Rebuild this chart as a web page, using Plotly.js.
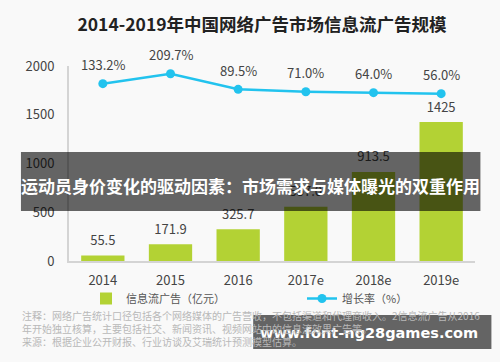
<!DOCTYPE html>
<html><head><meta charset="utf-8">
<script src="https://cdn.plot.ly/plotly-3.0.1.min.js"></script>
<style>html,body{margin:0;padding:0;background:#f9f9f9}</style>
</head><body><div id="chart" style="width:500px;height:362px"></div>
<script>
const years = ['2014', '2015', '2016', '2017e', '2018e', '2019e'];
const adSize = [55.5, 171.9, 325.7, 557.0, 913.5, 1425];
const adSizeLabels = ['55.5', '171.9', '325.7', '557.0', '913.5', '1425'];
const growth = [133.2, 209.7, 89.5, 71.0, 64.0, 56.0];
const growthLabels = ['133.2%', '209.7%', '89.5%', '71.0%', '64.0%', '56.0%'];
const yTicks = [0, 500, 1000, 1500, 2000];
const titleText = '2014-2019年中国网络广告市场信息流广告规模';
const barName = '信息流广告（亿元）';
const lineName = '增长率（%）';
const bannerText = '运动员身价变化的驱动因素：市场需求与媒体曝光的双重作用';
const watermarkText = 'www.font-ng28games.com';
const noteLines = [
  '注释：网络广告统计口径包括各个网络媒体的广告营收，不包括渠道和代理商收入。2信息流广告从2016',
  '年开始独立核算，主要包括社交、新闻资讯、视频网站中的信息流效果广告等。',
  '来源：根据企业公开财报、行业访谈及艾瑞统计预测模型估算。'
];

const FONT = '"Noto Sans CJK SC", "Noto Sans", sans-serif';
const GREEN = '#B3D234';
const CYAN = '#22C3EE';

const traces = [
  {
    type: 'bar', x: years, y: adSize, name: barName, legend: 'legend',
    marker: {color: GREEN}, hoverinfo: 'skip'
  },
  {
    type: 'scatter', mode: 'markers+text', x: years, y: adSize,
    text: adSizeLabels, textposition: 'top center',
    textfont: {family: FONT, size: 13, color: '#444'},
    marker: {size: 10, color: 'rgba(0,0,0,0)'}, showlegend: false, hoverinfo: 'skip'
  },
  {
    type: 'scatter', mode: 'lines+markers', x: years, y: growth, yaxis: 'y2',
    name: lineName, legend: 'legend2', line: {color: CYAN, width: 2.5},
    marker: {size: 9, color: CYAN}, hoverinfo: 'skip'
  }
];

const annotations = years.map((yr, i) => ({
  x: i, y: growth[i], xref: 'x', yref: 'y2', text: growthLabels[i],
  showarrow: false, yshift: 19,
  font: {family: FONT, size: 13, color: '#444'}
}));

annotations.push({
  xref: 'paper', yref: 'paper', x: (250.5 - 69)/405.6, y: (261 - 185)/195,
  text: '<b>' + bannerText + '</b>', showarrow: false,
  xanchor: 'center', yanchor: 'middle',
  font: {family: FONT, size: 17, color: '#ffffff'}
});
annotations.push({
  xref: 'paper', yref: 'paper', x: (369 - 69)/405.6, y: (261 - 333)/195,
  text: '<b>' + watermarkText + '</b>', showarrow: false,
  xanchor: 'center', yanchor: 'middle',
  font: {family: '"DejaVu Sans", sans-serif', size: 14.5, color: '#ffffff'}
});
annotations.push({
  xref: 'paper', yref: 'paper', x: (20 - 69)/405.6, y: (261 - 306)/195,
  text: noteLines.join('<br>'), showarrow: false, align: 'left',
  xanchor: 'left', yanchor: 'top',
  font: {family: FONT, size: 10, color: '#b8b8b8'}
});

const legendBase = {
  orientation: 'h', xref: 'container', yref: 'container',
  y: 1 - 284/362, xanchor: 'left', yanchor: 'top',
  font: {family: FONT, size: 11, color: '#555'},
  bgcolor: 'rgba(0,0,0,0)'
};

const layout = {
  width: 500, height: 362,
  margin: {l: 69, r: 25.4, t: 66, b: 101},
  paper_bgcolor: '#f9f9f9', plot_bgcolor: '#f9f9f9',
  font: {family: FONT, color: '#444'},
  title: {
    text: '<b>' + titleText + '</b>', x: 0.524, xref: 'container', xanchor: 'center',
    y: 1 - 25/362, yref: 'container', yanchor: 'middle',
    font: {family: FONT, size: 17.5, color: '#222'}
  },
  bargap: 0.36,
  showlegend: true,
  legend: Object.assign({}, legendBase, {x: 86/500}),
  legend2: Object.assign({}, legendBase, {x: 302/500}),
  xaxis: {
    type: 'category', range: [-0.5, 5.5], autorange: false,
    showgrid: false, zeroline: false,
    showline: true, linecolor: '#d4d4d4', linewidth: 2,
    ticks: '', ticklabelstandoff: 6, tickfont: {family: FONT, size: 13, color: '#444'}
  },
  yaxis: {
    range: [0, 2000], autorange: false, tickvals: yTicks, showgrid: false, zeroline: false,
    showline: true, linecolor: '#d4d4d4', linewidth: 2,
    ticks: '', ticklabelstandoff: 10, tickfont: {family: FONT, size: 13, color: '#444'}
  },
  yaxis2: {
    overlaying: 'y', side: 'right', range: [-1231, 269], autorange: false, visible: false
  },
  shapes: [
    {type: 'rect', layer: 'above', xref: 'paper', yref: 'paper',
     x0: (21 - 69)/405.6, x1: (480 - 69)/405.6, y0: (261 - 211)/195, y1: (261 - 152)/195,
     fillcolor: 'rgba(0,0,0,0.6)', line: {width: 0}},
    {type: 'rect', layer: 'above', xref: 'paper', yref: 'paper',
     x0: (253 - 69)/405.6, x1: (491 - 69)/405.6, y0: (261 - 349)/195, y1: (261 - 315)/195,
     fillcolor: 'rgba(0,0,0,0.6)', line: {width: 0}}
  ],
  annotations: annotations
};

Plotly.newPlot('chart', traces, layout, {staticPlot: true, displayModeBar: false});
</script></body></html>
